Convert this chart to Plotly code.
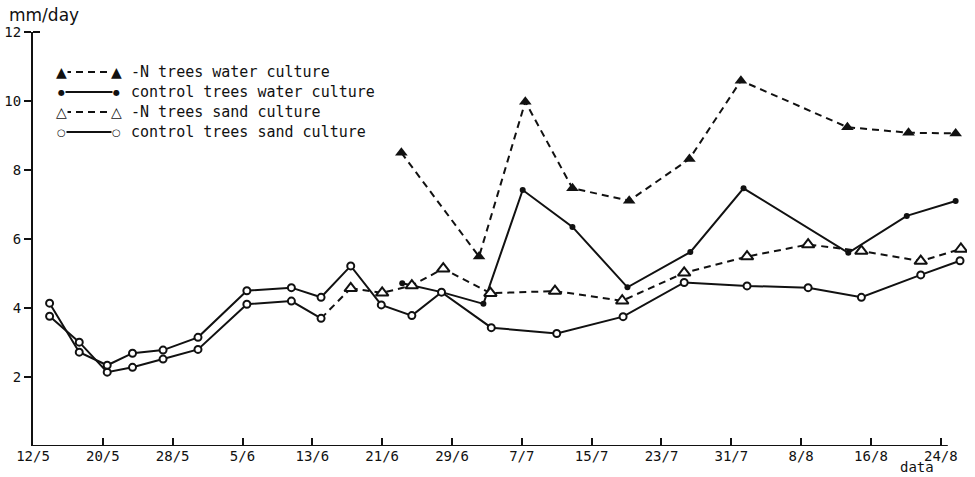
import plotly.graph_objects as go

# x positions are days after 12 May
x_tick_days = [0, 8, 16, 24, 32, 40, 48, 56, 64, 72, 80, 88, 96, 104]
x_tick_labels = ["12/5", "20/5", "28/5", "5/6", "13/6", "21/6", "29/6", "7/7",
                 "15/7", "23/7", "31/7", "8/8", "16/8", "24/8"]
y_tick_vals = [2, 4, 6, 8, 10, 12]

# control trees sand culture
cs_days = [1.9, 5.3, 8.5, 11.4, 14.9, 18.9, 24.5, 29.6, 33.0, 36.4, 39.9, 43.4,
           46.8, 52.5, 60.0, 67.6, 74.6, 81.8, 88.8, 94.9, 101.7, 106.2]
cs_vals = [4.14, 2.72, 2.34, 2.69, 2.78, 3.15, 4.50, 4.59, 4.31, 5.22, 4.09, 3.78,
           4.46, 3.43, 3.26, 3.75, 4.74, 4.64, 4.59, 4.31, 4.96, 5.37]

# -N trees sand culture, before treatment (circles)
nsp_days = [1.9, 5.3, 8.5, 11.4, 14.9, 18.9, 24.5, 29.6, 33.0]
nsp_vals = [3.76, 3.01, 2.14, 2.28, 2.52, 2.80, 4.11, 4.20, 3.70]

# -N trees sand culture
ns_days = [36.4, 40.0, 43.4, 47.0, 52.4, 59.8, 67.5, 74.6, 81.8, 88.8,
           94.9, 101.7, 106.3]
ns_vals = [4.57, 4.44, 4.65, 5.14, 4.43, 4.49, 4.21, 5.02, 5.49, 5.84,
           5.65, 5.36, 5.71]

# control trees water culture
cw_days = [42.3, 46.8, 51.6, 56.1, 61.8, 68.1, 75.3, 81.4, 93.4, 100.1, 105.7]
cw_vals = [4.72, 4.46, 4.12, 7.42, 6.35, 4.60, 5.62, 7.47, 5.60, 6.67, 7.10]

# -N trees water culture
nw_days = [42.2, 51.1, 56.4, 61.8, 68.3, 75.2, 81.1, 93.3, 100.3, 105.7]
nw_vals = [8.50, 5.49, 9.98, 7.47, 7.11, 8.32, 10.59, 9.24, 9.08, 9.06]

legend_labels = ["-N trees water culture", "control trees water culture",
                 "-N trees sand culture", "control trees sand culture"]

MONO = "DejaVu Sans Mono"
SANS = "DejaVu Sans"
BLACK = "#111111"
DASH = "7px,5px"

W, H = 975, 477
ML, MR, MT, MB = 33, 8, 32, 31
PW, PH = W - ML - MR, H - MT - MB


def px(x):
    return (x - ML) / PW


def py(y):
    return (H - MB - y) / PH


fig = go.Figure()

fig.add_trace(go.Scatter(
    x=nw_days, y=nw_vals, mode="lines+markers",
    line=dict(color=BLACK, width=2, dash=DASH),
    marker=dict(symbol="triangle-up", size=11, color=BLACK)))

fig.add_trace(go.Scatter(
    x=cw_days, y=cw_vals, mode="lines+markers",
    line=dict(color=BLACK, width=2),
    marker=dict(symbol="circle", size=6, color=BLACK)))

# dashed connection from the last pre-treatment reading to the first -N reading
fig.add_trace(go.Scatter(
    x=[nsp_days[-1], ns_days[0]], y=[nsp_vals[-1], ns_vals[0]], mode="lines",
    line=dict(color=BLACK, width=2, dash=DASH)))

fig.add_trace(go.Scatter(
    x=ns_days, y=ns_vals, mode="lines+markers",
    line=dict(color=BLACK, width=2, dash=DASH),
    marker=dict(symbol="triangle-up", size=11, color="white",
                line=dict(color=BLACK, width=2))))

fig.add_trace(go.Scatter(
    x=nsp_days, y=nsp_vals, mode="lines+markers",
    line=dict(color=BLACK, width=2),
    marker=dict(symbol="circle", size=7, color="white",
                line=dict(color=BLACK, width=2))))

fig.add_trace(go.Scatter(
    x=cs_days, y=cs_vals, mode="lines+markers",
    line=dict(color=BLACK, width=2),
    marker=dict(symbol="circle", size=7, color="white",
                line=dict(color=BLACK, width=2))))

# x axis line ends just before the last measurements, as in the original
fig.add_shape(type="line", xref="x", yref="y", x0=0, x1=104.8, y0=0, y1=0,
              line=dict(color=BLACK, width=2))
# small inward tick at the top of the y axis
fig.add_shape(type="line", xref="paper", yref="paper", x0=0, x1=px(ML + 7),
              y0=1, y1=1, line=dict(color=BLACK, width=2))

# hand-drawn style legend
legend_rows_y = [72, 92, 112, 132]
legend_glyphs = [("\u25B2", 14), ("\u25CF", 8), ("\u25B3", 14), ("\u25CB", 10)]
legend_dash = [DASH, "solid", DASH, "solid"]
for label, ry, (glyph, gsize), dsh in zip(legend_labels, legend_rows_y,
                                          legend_glyphs, legend_dash):
    fig.add_shape(type="line", xref="paper", yref="paper",
                  x0=px(64), x1=px(113), y0=py(ry), y1=py(ry),
                  line=dict(color=BLACK, width=2, dash=dsh))
    for gx in (61, 116):
        fig.add_annotation(text=glyph, xref="paper", yref="paper",
                           x=px(gx), y=py(ry), xanchor="center", yanchor="middle",
                           showarrow=False, bgcolor="white", borderpad=0,
                           font=dict(family=SANS, size=gsize, color=BLACK))
    fig.add_annotation(text=label, xref="paper", yref="paper",
                       x=px(129), y=py(ry), xanchor="left", yanchor="middle",
                       showarrow=False, font=dict(family=MONO, size=15, color=BLACK))

fig.update_xaxes(range=[0, 107], tickvals=x_tick_days, ticktext=x_tick_labels,
                 ticks="inside", ticklen=8, tickwidth=1.5, tickcolor=BLACK,
                 showline=False, showgrid=False, zeroline=False, automargin=False,
                 tickfont=dict(family=MONO, size=14, color=BLACK))
fig.update_yaxes(range=[0, 12], tickvals=y_tick_vals,
                 ticks="outside", ticklen=7, tickwidth=1.5, tickcolor=BLACK,
                 showline=True, linecolor=BLACK, linewidth=2,
                 showgrid=False, zeroline=False, automargin=False,
                 tickfont=dict(family=MONO, size=14, color=BLACK))

fig.add_annotation(text="mm/day", xref="paper", yref="paper", x=px(7), y=py(15),
                   xanchor="left", yanchor="middle", showarrow=False,
                   font=dict(family=SANS, size=17, color=BLACK))
fig.add_annotation(text="data", xref="paper", yref="paper", x=px(917), y=py(467),
                   xanchor="center", yanchor="middle", showarrow=False,
                   font=dict(family=MONO, size=14, color=BLACK))

fig.update_layout(
    width=W, height=H,
    margin=dict(l=ML, r=MR, t=MT, b=MB),
    paper_bgcolor="white", plot_bgcolor="white",
    showlegend=False,
)

fig.write_html("out.html",
               config={"displayModeBar": False},
               post_script="document.body.style.margin='0';"
                           "document.body.style.overflow='hidden';")
